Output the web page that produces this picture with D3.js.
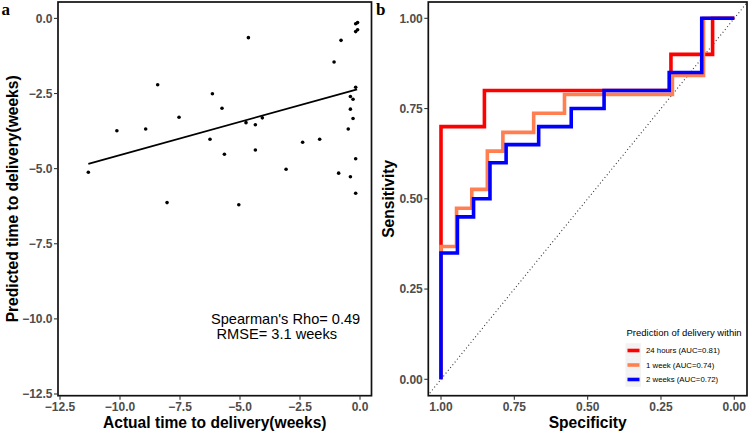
<!DOCTYPE html>
<html><head><meta charset="utf-8">
<script src="https://cdn.jsdelivr.net/npm/d3@7"></script>
<style>
html,body{margin:0;padding:0;background:#fff;}
svg{display:block;font-family:"Liberation Sans",Arial,sans-serif;}
</style></head>
<body><svg id="c" width="749" height="431"></svg>
<script>
// ---- Panel a data ----
const actualWeeks = [-11.32,-10.13,-8.93,-8.43,-7.54,-8.04,-6.25,-6.15,-5.75,-5.65,-5.05,-4.75,-4.65,-4.36,-4.07,-4.36,-3.08,-2.39,-1.68,-1.08,-0.79,-0.18,-0.10,-0.18,-0.10,-0.18,-0.40,-0.29,-0.40,-0.29,-0.49,-0.18,-0.89,-0.40,-0.18];
const predictedWeeks = [-5.12,-3.74,-3.68,-2.21,-3.29,-6.13,-4.02,-2.51,-2.99,-4.52,-6.20,-3.47,-0.64,-3.54,-3.31,-4.38,-5.02,-4.12,-4.02,-1.45,-0.73,-0.18,-0.14,-0.44,-0.38,-2.29,-2.60,-2.69,-3.02,-3.33,-3.68,-4.67,-5.15,-5.27,-5.82];
const fitX = [-11.32,-0.12];
const fitY = [-4.84,-2.36];
const aTicks = [-12.5,-10,-7.5,-5,-2.5,0];
const annotLines = ["Spearman's Rho= 0.49"," RMSE= 3.1 weeks"];

// ---- Panel b data ----
const rocNames = ["24 hours (AUC=0.81)","1 week (AUC=0.74)","2 weeks (AUC=0.72)"];
const rocColors = ["#FF0000","#FF7F50","#0000FF"];
const specRed  = [1,1,0.852,0.852,0.216,0.216,0.074,0.074,0];
const sensRed  = [0,0.70,0.70,0.80,0.80,0.90,0.90,1,1];
const specOrange = [1,1,0.947,0.947,0.895,0.895,0.842,0.842,0.789,0.789,0.684,0.684,0.579,0.579,0.211,0.211,0.105,0.105,0];
const sensOrange = [0,0.368,0.368,0.474,0.474,0.526,0.526,0.632,0.632,0.684,0.684,0.737,0.737,0.789,0.789,0.842,0.842,1,1];
const specBlue = [1,1,0.944,0.944,0.889,0.889,0.833,0.833,0.778,0.778,0.667,0.667,0.556,0.556,0.444,0.444,0.222,0.222,0.111,0.111,0];
const sensBlue = [0,0.35,0.35,0.45,0.45,0.50,0.50,0.60,0.60,0.65,0.65,0.70,0.70,0.75,0.75,0.80,0.80,0.85,0.85,1,1];
const bTicks = [1,0.75,0.5,0.25,0];
const legendTitle = "Prediction of delivery within";

const svg = d3.select("#c");
const tickCol = "#4D4D4D";
const fmt1 = v => d3.format(".1f")(v).replace("-","\u2212");
const fmt2 = v => d3.format(".2f")(v);

function panelAxes(g, box, xs, ys, xt, yt, f, xTitle, yTitle, yTitleX){
  // ticks x
  g.selectAll(null).data(xt).enter().append("line")
    .attr("x1",d=>xs(d)).attr("x2",d=>xs(d)).attr("y1",box.b).attr("y2",box.b+4)
    .attr("stroke","#333").attr("stroke-width",1.1);
  g.selectAll(null).data(xt).enter().append("text")
    .attr("x",d=>xs(d)).attr("y",410.5).attr("text-anchor","middle")
    .attr("font-size",12).attr("font-weight","bold").attr("fill",tickCol).text(f);
  g.selectAll(null).data(yt).enter().append("line")
    .attr("y1",d=>ys(d)).attr("y2",d=>ys(d)).attr("x1",box.l-4).attr("x2",box.l)
    .attr("stroke","#333").attr("stroke-width",1.1);
  g.selectAll(null).data(yt).enter().append("text")
    .attr("x",box.l-5.5).attr("y",d=>ys(d)).attr("dy","0.36em").attr("text-anchor","end")
    .attr("font-size",12).attr("font-weight","bold").attr("fill",tickCol).text(f);
  g.append("text").attr("x",(box.l+box.r)/2).attr("y",427.5).attr("text-anchor","middle")
    .attr("font-size",15.6).attr("font-weight","bold").attr("fill","#000").text(xTitle);
  g.append("text").attr("transform",`translate(${yTitleX},${(box.t+box.b)/2}) rotate(-90)`)
    .attr("text-anchor","middle").attr("font-size",15.6).attr("font-weight","bold").attr("fill","#000").text(yTitle);
}

// ===== Panel a =====
const boxA = {l:58, r:371.5, t:2, b:395.7};
const xA = d3.scaleLinear().domain([-12.5,0]).range([60,360]);
const yA = d3.scaleLinear().domain([0,-12.5]).range([18.4,394]);
const gA = svg.append("g");
gA.append("rect").attr("x",boxA.l).attr("y",boxA.t).attr("width",boxA.r-boxA.l).attr("height",boxA.b-boxA.t).attr("fill","#fff");
gA.selectAll("circle").data(d3.range(actualWeeks.length)).enter().append("circle")
  .attr("cx",i=>xA(actualWeeks[i])).attr("cy",i=>yA(predictedWeeks[i])).attr("r",1.8).attr("fill","#000");
gA.append("line").attr("x1",xA(fitX[0])).attr("y1",yA(fitY[0])).attr("x2",xA(fitX[1])).attr("y2",yA(fitY[1]))
  .attr("stroke","#000").attr("stroke-width",1.8);
gA.append("text").attr("x",211).attr("y",324.3).attr("font-size",14.6).attr("fill","#000").text(annotLines[0]);
gA.append("text").attr("x",212.5).attr("y",339.3).attr("font-size",14.6).attr("fill","#000").attr("xml:space","preserve").style("white-space","pre").text(annotLines[1]);
gA.append("rect").attr("x",boxA.l).attr("y",boxA.t).attr("width",boxA.r-boxA.l).attr("height",boxA.b-boxA.t)
  .attr("fill","none").attr("stroke","#111").attr("stroke-width",1.7);
panelAxes(gA, boxA, xA, yA, aTicks, aTicks, fmt1, "Actual time to delivery(weeks)", "Predicted time to delivery(weeks)", 17.5);
gA.append("text").attr("x",1.5).attr("y",15).attr("font-family","'Liberation Serif','Times New Roman',serif")
  .attr("font-weight","bold").attr("font-size",17).text("a");

// ===== Panel b =====
const boxB = {l:428.3, r:747, t:2, b:395.7};
const xB = d3.scaleLinear().domain([1,0]).range([441,734.3]);
const yB = d3.scaleLinear().domain([0,1]).range([379.3,18.3]);
const gB = svg.append("g");
svg.append("defs").append("clipPath").attr("id","clipB").append("rect")
  .attr("x",boxB.l).attr("y",boxB.t).attr("width",boxB.r-boxB.l).attr("height",boxB.b-boxB.t);
gB.append("rect").attr("x",boxB.l).attr("y",boxB.t).attr("width",boxB.r-boxB.l).attr("height",boxB.b-boxB.t).attr("fill","#fff");
const plotB = gB.append("g").attr("clip-path","url(#clipB)");
// diagonal reference
plotB.append("line").attr("x1",xB(1.1)).attr("y1",yB(-0.1)).attr("x2",xB(-0.1)).attr("y2",yB(1.1))
  .attr("stroke","#333").attr("stroke-width",1.1).attr("stroke-dasharray","1 2.6");
const rocs = [[specRed,sensRed],[specOrange,sensOrange],[specBlue,sensBlue]];
const lineGen = d3.line().x(d=>xB(d[0])).y(d=>yB(d[1]));
rocs.forEach((r,k)=>{
  const pts = r[0].map((s,i)=>[s,r[1][i]]);
  plotB.append("path").attr("d",lineGen(pts)).attr("fill","none")
    .attr("stroke",rocColors[k]).attr("stroke-width",3.6).attr("stroke-linejoin","miter").attr("stroke-linecap","butt");
});
// legend
const lg = gB.append("g");
lg.append("rect").attr("x",622).attr("y",325).attr("width",122).attr("height",69).attr("fill","#fff");
lg.append("text").attr("x",626.5).attr("y",336).attr("font-size",9.5).attr("fill","#000").text(legendTitle);
rocNames.forEach((n,k)=>{
  const cy = 350.5 + k*14.5;
  lg.append("rect").attr("x",625.5).attr("y",cy-7.25).attr("width",15.5).attr("height",14.5).attr("fill","#F2F2F2");
  lg.append("line").attr("x1",627.5).attr("x2",639.5).attr("y1",cy).attr("y2",cy)
    .attr("stroke",rocColors[k]).attr("stroke-width",3.6);
  lg.append("text").attr("x",646).attr("y",cy).attr("dy","0.36em").attr("font-size",7.8).attr("fill","#000").text(n);
});
gB.append("rect").attr("x",boxB.l).attr("y",boxB.t).attr("width",boxB.r-boxB.l).attr("height",boxB.b-boxB.t)
  .attr("fill","none").attr("stroke","#111").attr("stroke-width",1.7);
panelAxes(gB, boxB, xB, yB, bTicks, bTicks, fmt2, "Specificity", "Sensitivity", 394);
gB.append("text").attr("x",376).attr("y",15).attr("font-family","'Liberation Serif','Times New Roman',serif")
  .attr("font-weight","bold").attr("font-size",17).text("b");
</script></body></html>
